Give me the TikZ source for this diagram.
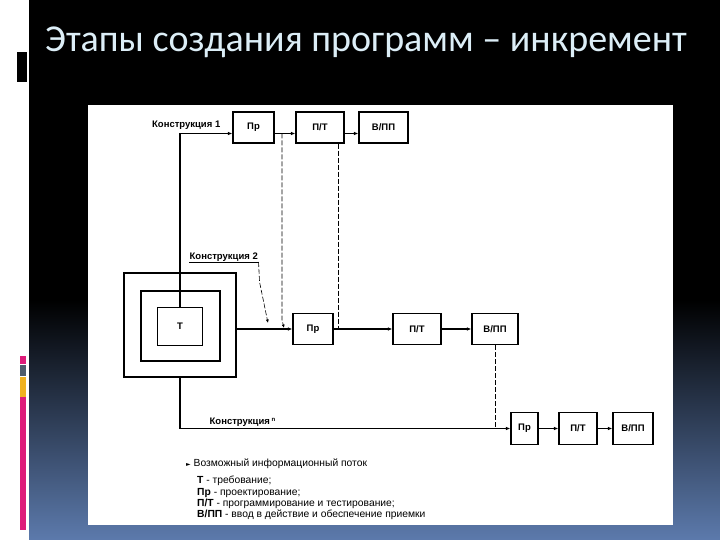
\documentclass[tikz,border=0pt]{standalone}
\usepackage{fontspec}
\setmainfont{Liberation Sans}
\newfontfamily\titlefont{Carlito}
\newfontfamily\dejavu{DejaVu Sans}
\usetikzlibrary{arrows.meta}
\definecolor{bgblue}{RGB}{92,122,172}
\definecolor{titlecol}{RGB}{220,238,247}
\definecolor{mag}{RGB}{222,28,122}
\definecolor{greybar}{RGB}{78,92,108}
\definecolor{yelbar}{RGB}{240,178,32}
\tikzset{
  box/.style={draw, line width=1.1pt, inner sep=0pt, font=\bfseries\fontsize{9.5}{10}\selectfont},
  sq/.style={draw, line width=2pt, inner sep=0pt},
  conn/.style={line width=1.1pt},
  arr/.style={conn, -{Latex[length=4.5pt,width=3.5pt]}},
  flowline/.style={line width=0.6pt, dash pattern=on 5pt off 2pt},
  lbl/.style={font=\bfseries\fontsize{9.5}{10}\selectfont, inner sep=0.5pt},
  lgd/.style={anchor=base west, inner sep=0pt, font=\fontsize{10.3}{11}\selectfont}
}
\begin{document}
\begin{tikzpicture}[x=1pt,y=-1pt]
\useasboundingbox (0,0) rectangle (720,540);
% background
\fill[white] (0,0) rectangle (720,540);
\fill[black] (29,0) rectangle (720,300.5);
\shade[top color=black, bottom color=bgblue] (29,300) rectangle (720,540);
\fill[black] (17,52) rectangle (27,82);
\fill[mag] (20,356) rectangle (26,364);
\fill[greybar] (20,365) rectangle (26,376);
\fill[yelbar] (20,377) rectangle (26,397);
\fill[mag] (20,397) rectangle (26,530);
% title
\node[anchor=base west, inner sep=0pt, text=titlecol, font=\titlefont\fontsize{38}{42}\selectfont] (title) at (45,52) {Этапы создания программ – инкремент};
% panel
\fill[white] (88,105) rectangle (673,525);

% row 1
\node[box, minimum width=41pt, minimum height=31pt] (p1) at (253.5,127.5) {Пр};
\node[box, minimum width=48pt, minimum height=31pt] (t1) at (320,127.5) {П/Т};
\node[box, minimum width=49pt, minimum height=31pt] (v1) at (383.5,127.5) {В/ПП};
% row 2
\node[box, minimum width=40pt, minimum height=31pt] (p2) at (313,329) {Пр};
\node[box, minimum width=48pt, minimum height=31pt] (t2) at (417,329) {П/Т};
\node[box, minimum width=46pt, minimum height=31pt] (v2) at (495,329) {В/ПП};
% row 3
\node[box, minimum width=27pt, minimum height=32pt] (p3) at (524.5,428.5) {Пр};
\node[box, minimum width=38pt, minimum height=32pt] (t3) at (578,428.5) {П/Т};
\node[box, minimum width=40pt, minimum height=32pt] (v3) at (633,428.5) {В/ПП};

% nested squares
\node[sq, minimum width=112pt, minimum height=104pt] (outer) at (180,325) {};
\node[sq, minimum width=79pt, minimum height=70pt] (middle) at (180,326) {};
\node[box, line width=1.5pt, minimum width=45pt, minimum height=38pt] (T) at (180,326.5) {Т};

% labels
\node[lbl, anchor=east] (k1) at (221,125) {Конструкция 1};
\node[lbl, anchor=south west] (k2) at (189,262) {Конструкция 2};
\node[lbl, anchor=west] (kn) at (209,422) {Конструкция\,\raisebox{0.6ex}{\fontsize{6}{6}\selectfont n}};

% row 1 connectors
\coordinate (c1) at (180,133.5);
\draw[arr] (c1) -- (c1 -| p1.west);
\draw[conn] (c1) -- (c1 |- T.north);
\draw[arr] ([yshift=-6pt]p1.east) -- ([yshift=-6pt]t1.west);
\draw[arr] ([yshift=-6pt]t1.east) -- ([yshift=-6pt]v1.west);
% row 2 connectors
\draw[arr] (outer.east |- p2.west) -- (p2.west);
\draw[arr] (p2) -- (t2);
\draw[arr] (t2) -- (v2);
% row 3 connectors
\draw[arr] (outer.south) |- (p3.west);
\draw[arr] (p3) -- (t3);
\draw[arr] (t3) -- (v3);

% dashed information flows
\coordinate (d1) at (282,133.5);
\coordinate (d1e) at (284,328);
\draw[flowline, -{Latex[length=3.5pt,width=3pt]}] (d1) -- (282,320) -- (d1e);
\draw[flowline] (t1.south -| 338,0) -- (338,329);
\coordinate (ka2) at (268,323);
\draw[line width=0.8pt] (k2.south west) -- (k2.south east);
\draw[flowline, -{Latex[length=3.5pt,width=3pt]}] (k2.south east) -- ([xshift=1pt,yshift=-20pt]k2.south east) -- (ka2);
\draw[flowline] (v2.south) -- (v2.south |- p3.west);

% legend
\node[lgd] (lg0) at (186,466) {{\dejavu\fontsize{6}{6}\selectfont ►}\ Возможный информационный поток};
\node[lgd] (lg1) at (197,483) {\textbf{Т} - требование;};
\node[lgd] (lg2) at (197,495) {\textbf{Пр} - проектирование;};
\node[lgd] (lg3) at (197,506) {\textbf{П/Т} - программирование и тестирование;};
\node[lgd] (lg4) at (197,517) {\textbf{В/ПП} - ввод в действие и обеспечение приемки};
\end{tikzpicture}
\end{document}
